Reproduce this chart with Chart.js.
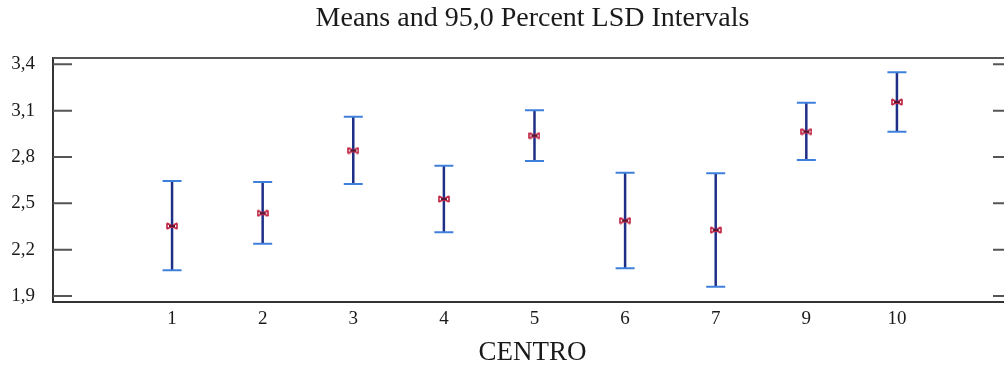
<!DOCTYPE html>
<html>
<head>
<meta charset="utf-8">
<script src="https://cdn.jsdelivr.net/npm/chart.js@4.4.1/dist/chart.umd.min.js"></script>
<style>
  html, body { margin: 0; padding: 0; background: #fff; overflow: hidden; width: 1004px; height: 372px; }
  #wrap { position: absolute; left: 0; top: 0; width: 1065px; height: 372px; }
</style>
</head>
<body>
<div id="wrap"><canvas id="c" width="1065" height="372"></canvas></div>
<script>
// ---- data ----
const centros = ['1', '2', '3', '4', '5', '6', '7', '9', '10'];
const means   = [2.353, 2.436, 2.842, 2.528, 2.938, 2.388, 2.327, 2.964, 3.156];
const lower   = [2.066, 2.239, 2.625, 2.312, 2.774, 2.079, 1.960, 2.780, 2.964];
const upper   = [2.645, 2.638, 3.061, 2.744, 3.102, 2.698, 2.694, 3.151, 3.348];
const yTickValues = [1.9, 2.2, 2.5, 2.8, 3.1, 3.4];
const yTickLabels = ['1,9', '2,2', '2,5', '2,8', '3,1', '3,4'];
const titleText = 'Means and 95,0 Percent LSD Intervals';
const xTitleText = 'CENTRO';

// ---- build datasets ----
const meanPts = means.map((v, i) => ({ x: i, y: v }));
const capPts = [];
lower.forEach((v, i) => { capPts.push({ x: i, y: v }); capPts.push({ x: i, y: upper[i] }); });
const stemPts = [];
lower.forEach((v, i) => {
  stemPts.push({ x: i, y: v });
  stemPts.push({ x: i, y: upper[i] });
  stemPts.push({ x: i, y: null });
});

// bow-tie marker for the means
const mk = document.createElement('canvas');
mk.width = 12; mk.height = 8;
(function () {
  const g = mk.getContext('2d');
  g.strokeStyle = '#c42a48';
  g.lineWidth = 1.7;
  g.beginPath();
  g.moveTo(1, 1); g.lineTo(11, 7);
  g.moveTo(1, 7); g.lineTo(11, 1);
  g.moveTo(1, 1); g.lineTo(1, 7);
  g.moveTo(11, 1); g.lineTo(11, 7);
  g.stroke();
  g.strokeStyle = '#5a1434';
  g.lineWidth = 2;
  g.beginPath();
  g.moveTo(3, 4); g.lineTo(9, 4);
  g.stroke();
})();

const frameTicks = {
  id: 'frameTicks',
  afterDraw(chart) {
    const { ctx, chartArea: a, scales } = chart;
    ctx.save();
    ctx.strokeStyle = '#555';
    ctx.lineWidth = 2;
    ctx.beginPath();
    ctx.moveTo(a.left, a.top);
    ctx.lineTo(a.right, a.top);
    ctx.stroke();
    ctx.strokeStyle = '#555';
    ctx.lineWidth = 2;
    ctx.beginPath();
    yTickValues.forEach(v => {
      const py = scales.y.getPixelForValue(v);
      ctx.moveTo(a.left, py); ctx.lineTo(a.left + 19, py);
      ctx.moveTo(a.right - 19, py); ctx.lineTo(a.right, py);
    });
    ctx.stroke();
    ctx.restore();
  }
};

new Chart(document.getElementById('c'), {
  type: 'scatter',
  data: {
    datasets: [
      {
        label: 'mean',
        data: meanPts,
        pointStyle: mk,
        pointRadius: 6,
        showLine: false,
        order: 0
      },
      {
        label: 'caps',
        data: capPts,
        pointStyle: 'line',
        pointRadius: 9.5,
        pointBorderWidth: 2,
        pointBorderColor: '#3f7fdc',
        pointBackgroundColor: '#3f7fdc',
        showLine: false,
        order: 1
      },
      {
        label: 'stems',
        data: stemPts,
        showLine: true,
        spanGaps: false,
        pointRadius: 0,
        borderColor: '#1f2f86',
        borderWidth: 2.5,
        order: 2
      }
    ]
  },
  options: {
    responsive: false,
    devicePixelRatio: 1,
    animation: false,
    events: [],
    layout: { padding: 0 },
    plugins: {
      legend: { display: false },
      tooltip: { enabled: false },
      title: {
        display: true,
        text: titleText,
        color: '#1a1a1a',
        font: { family: 'Liberation Serif', size: 28, weight: 'normal' },
        padding: { top: 2.2, bottom: 22.2 }
      }
    },
    scales: {
      x: {
        type: 'linear',
        min: -1.314,
        max: 9.27,
        grid: { display: false, drawTicks: false },
        border: { display: true, color: '#333', width: 2 },
        afterBuildTicks: s => { s.ticks = centros.map((c, i) => ({ value: i })); },
        afterFit: s => { s.height = 70.3; },
        ticks: {
          autoSkip: false,
          maxRotation: 0,
          padding: 6,
          color: '#1a1a1a',
          font: { family: 'Liberation Serif', size: 19 },
          callback: v => centros[v]
        },
        title: {
          display: true,
          text: xTitleText,
          color: '#1a1a1a',
          font: { family: 'Liberation Serif', size: 27 },
          padding: { top: 0, bottom: 2.8 }
        }
      },
      y: {
        type: 'linear',
        position: 'left',
        min: 1.863,
        max: 3.441,
        grid: { display: false, drawTicks: false },
        border: { display: true, color: '#333', width: 2 },
        afterBuildTicks: s => { s.ticks = yTickValues.map(v => ({ value: v })); },
        afterFit: s => { s.width = 53; },
        ticks: {
          padding: 18,
          color: '#1a1a1a',
          font: { family: 'Liberation Serif', size: 19 },
          callback: (v) => { const k = yTickValues.indexOf(v); return k >= 0 ? yTickLabels[k] : ''; }
        }
      },
      yRight: {
        type: 'linear',
        position: 'right',
        min: 1.863,
        max: 3.441,
        grid: { display: false, drawTicks: false },
        border: { display: false },
        ticks: { display: false },
        afterFit: s => { s.width = 53; }
      }
    }
  },
  plugins: [frameTicks]
});
</script>
</body>
</html>
